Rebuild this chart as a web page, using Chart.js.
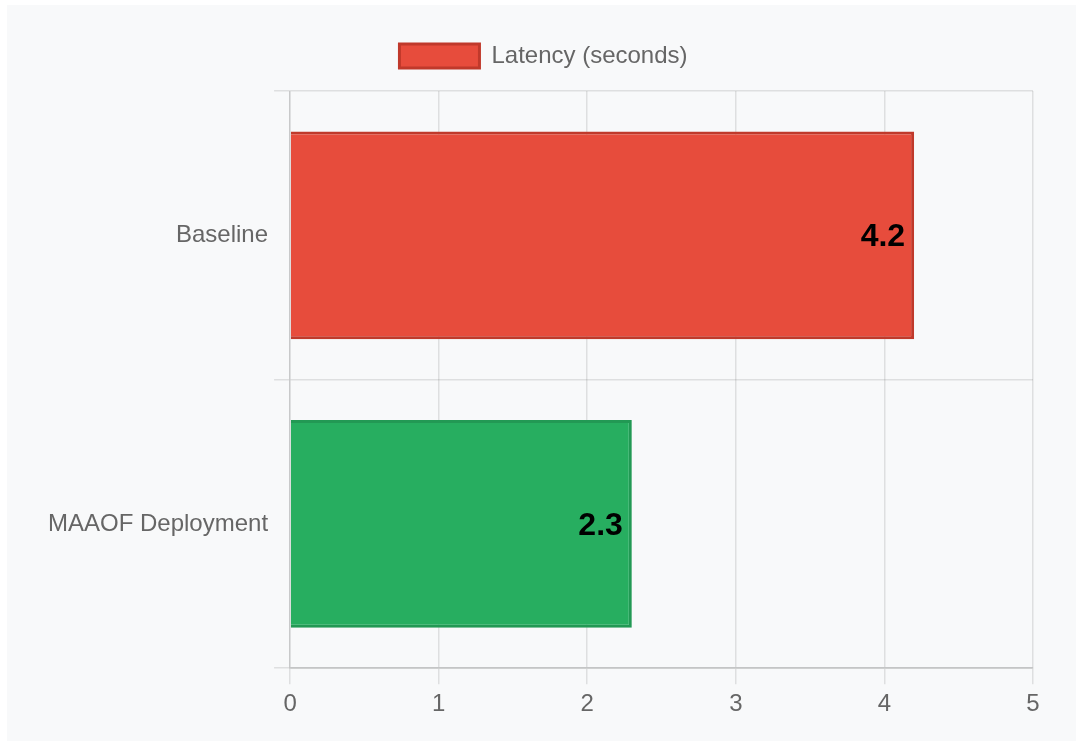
<!DOCTYPE html>
<html>
<head>
<meta charset="utf-8">
<script src="https://cdn.jsdelivr.net/npm/chart.js@4.4.1/dist/chart.umd.min.js"></script>
<style>
  html, body { margin: 0; padding: 0; background: #ffffff; }
  #panel { position: absolute; left: 7px; top: 5px; width: 1069px; height: 736px; background: #f8f9fa; }
  #wrap { position: absolute; left: 0; top: 0; width: 1076px; height: 744px; }
</style>
</head>
<body>
<div id="panel"></div>
<div id="wrap"><canvas id="chart"></canvas></div>
<script>
// Latency comparison: baseline vs. MAAOF deployment
const categories = ['Baseline', 'MAAOF Deployment'];
const latencySeconds = [4.2, 2.3];
const seriesLabel = 'Latency (seconds)';
const barFill = ['#e74c3c', '#27ae60'];
const barEdge = ['#c0392b', '#229954'];
const xTicks = [0, 1, 2, 3, 4, 5];

const FONT = "'Helvetica Neue', 'Helvetica', 'Arial', sans-serif";

// Writes each bar's value just inside its end
const valueLabels = {
  id: 'valueLabels',
  afterDatasetsDraw(chart) {
    const ctx = chart.ctx;
    const meta = chart.getDatasetMeta(0);
    ctx.save();
    ctx.font = 'bold 32px ' + FONT;
    ctx.fillStyle = '#000000';
    ctx.textAlign = 'right';
    ctx.textBaseline = 'middle';
    meta.data.forEach((bar, i) => {
      const v = chart.data.datasets[0].data[i];
      ctx.fillText(String(v), bar.x - 9, bar.y + 2);
    });
    ctx.restore();
  }
};

// Extra space between the legend and the plot, and a small rightward nudge
const legendGap = {
  id: 'legendGap',
  beforeInit(chart) {
    const fit = chart.legend.fit;
    chart.legend.fit = function () {
      fit.call(this);
      this.height += 13;
    };
  },
  afterLayout(chart) {
    chart.legend.left += 6;
    chart.legend.right += 6;
  }
};

new Chart(document.getElementById('chart'), {
  type: 'bar',
  data: {
    labels: categories,
    datasets: [{
      label: seriesLabel,
      data: latencySeconds,
      backgroundColor: barFill,
      borderColor: barEdge,
      borderWidth: 3
    }]
  },
  options: {
    indexAxis: 'y',
    responsive: true,
    maintainAspectRatio: false,
    animation: false,
    layout: { padding: { left: 42, right: 43, top: 24, bottom: 19 } },
    font: { family: FONT, size: 24 },
    plugins: {
      tooltip: { enabled: false },
      legend: {
        position: 'top',
        labels: {
          color: '#666666',
          font: { family: FONT, size: 24 },
          boxWidth: 80,
          boxHeight: 24,
          padding: 20,
          generateLabels: () => [{
            text: seriesLabel,
            fillStyle: barFill[0],
            strokeStyle: barEdge[0],
            fontColor: '#666666',
            lineWidth: 3,
            datasetIndex: 0,
            hidden: false
          }]
        }
      }
    },
    scales: {
      x: {
        min: xTicks[0],
        max: xTicks[xTicks.length - 1],
        ticks: {
          stepSize: 1,
          color: '#666666',
          font: { family: FONT, size: 24 },
          padding: 6
        },
        grid: { color: 'rgba(0,0,0,0.1)', lineWidth: 1.5, tickLength: 16 },
        border: { color: 'rgba(0,0,0,0.12)', width: 2 }
      },
      y: {
        ticks: {
          color: '#666666',
          font: { family: FONT, size: 24 },
          padding: 6
        },
        grid: { color: 'rgba(0,0,0,0.1)', lineWidth: 1.5, tickLength: 16 },
        border: { color: 'rgba(0,0,0,0.1)', width: 1.5 }
      }
    }
  },
  plugins: [valueLabels, legendGap]
});
</script>
</body>
</html>
